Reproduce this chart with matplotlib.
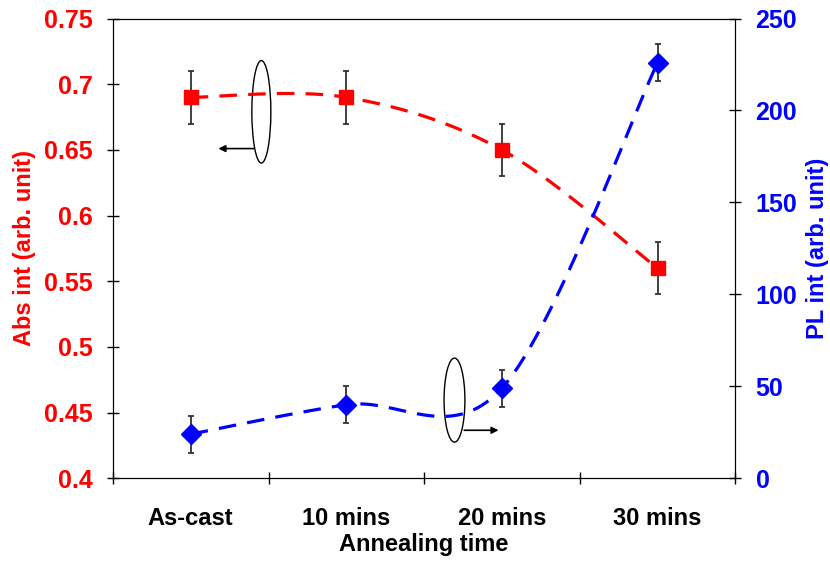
import numpy as np
import matplotlib
matplotlib.use("Agg")
import matplotlib.pyplot as plt
from matplotlib.patches import Ellipse

plt.rcParams['font.family'] = ['Liberation Sans', 'DejaVu Sans']
plt.rcParams['font.weight'] = 'bold'
plt.rcParams['axes.labelweight'] = 'bold'

categories = ['As-cast', '10 mins', '20 mins', '30 mins']
abs_int = [0.69, 0.69, 0.65, 0.56]
abs_err = [0.02, 0.02, 0.02, 0.02]
pl_int = [24, 40, 49, 226]
pl_err = [10, 10, 10, 10]
left_ticks = [0.4, 0.45, 0.5, 0.55, 0.6, 0.65, 0.7, 0.75]
left_labels = ['0.4', '0.45', '0.5', '0.55', '0.6', '0.65', '0.7', '0.75']
right_ticks = [0, 50, 100, 150, 200, 250]


def smooth(xs, ys, n=40):
    # Excel-style smoothed line: cubic bezier through the points
    xs = np.asarray(xs, float)
    ys = np.asarray(ys, float)
    pts = np.column_stack([xs, ys])
    out = []
    for i in range(len(pts) - 1):
        p0 = pts[i - 1] if i > 0 else pts[i]
        p1 = pts[i]
        p2 = pts[i + 1]
        p3 = pts[i + 2] if i + 2 < len(pts) else pts[i + 1]
        c1 = p1 + (p2 - p0) / 6
        c2 = p2 - (p3 - p1) / 6
        t = np.linspace(0, 1, n)[:, None]
        seg = ((1 - t) ** 3 * p1 + 3 * (1 - t) ** 2 * t * c1
               + 3 * (1 - t) * t ** 2 * c2 + t ** 3 * p2)
        out.append(seg if i == 0 else seg[1:])
    out = np.vstack(out)
    return out[:, 0], out[:, 1]


fig = plt.figure(figsize=(8.3, 5.62), dpi=100)
ax1 = fig.add_axes([0.136, 0.149, 0.750, 0.818])
ax2 = ax1.twinx()

x = np.arange(len(categories))

sx, sy = smooth(x, abs_int)
ax1.plot(sx, sy, color='red', lw=2.3, dashes=(5.5, 3.5))
ax1.errorbar(x, abs_int, yerr=abs_err, fmt='none', ecolor='#333333',
             elinewidth=1.3, capsize=2.5, capthick=1.3)
ax1.plot(x, abs_int, 's', color='red', ms=9.5, zorder=5)

sx, sy = smooth(x, pl_int)
ax2.plot(sx, sy, color='blue', lw=2.3, dashes=(5.5, 3.5))
ax2.errorbar(x, pl_int, yerr=pl_err, fmt='none', ecolor='#333333',
             elinewidth=1.3, capsize=2.5, capthick=1.3)
ax2.plot(x, pl_int, 'D', color='blue', ms=10.5, zorder=5)

ax1.set_xlim(-0.5, len(categories) - 0.5)
ax1.set_ylim(0.4, 0.75)
ax2.set_ylim(0, 250)

ax1.set_xticks(np.arange(len(categories) + 1) - 0.5)
ax1.set_xticklabels([])
ax1.set_xticks(x, minor=True)
ax1.set_xticklabels(categories, minor=True, fontsize=17)
ax1.tick_params(axis='x', which='major', direction='inout', length=9, width=1)
ax1.tick_params(axis='x', which='minor', length=0, pad=21)

ax1.set_yticks(left_ticks)
ax1.set_yticklabels(left_labels)
ax1.tick_params(axis='y', direction='inout', length=9, width=1,
                labelsize=18, labelcolor='red', pad=10)
ax2.set_yticks(right_ticks)
ax2.tick_params(axis='y', direction='inout', length=9, width=1,
                labelsize=18, labelcolor='blue', pad=10)

ax1.set_xlabel('Annealing time', fontsize=17, labelpad=2)
ax1.set_ylabel('Abs int (arb. unit)', fontsize=17, color='red', labelpad=6)
ax2.set_ylabel('PL int (arb. unit)', fontsize=17, color='blue', labelpad=6)

# annotation ellipses and arrows
ax1.add_patch(Ellipse((0.454, 0.679), 0.122, 0.078, fill=False, lw=1, ec='black'))
ax1.annotate('', xy=(0.16, 0.651), xytext=(0.422, 0.651),
             arrowprops=dict(arrowstyle='-|>', color='black', lw=1.2, mutation_scale=10))
ax2.add_patch(Ellipse((1.695, 42.5), 0.134, 45.7, fill=False, lw=1, ec='black'))
ax2.annotate('', xy=(1.996, 26.1), xytext=(1.74, 26.1),
             arrowprops=dict(arrowstyle='-|>', color='black', lw=1.2, mutation_scale=10))

fig.savefig('out.png', dpi=100)
